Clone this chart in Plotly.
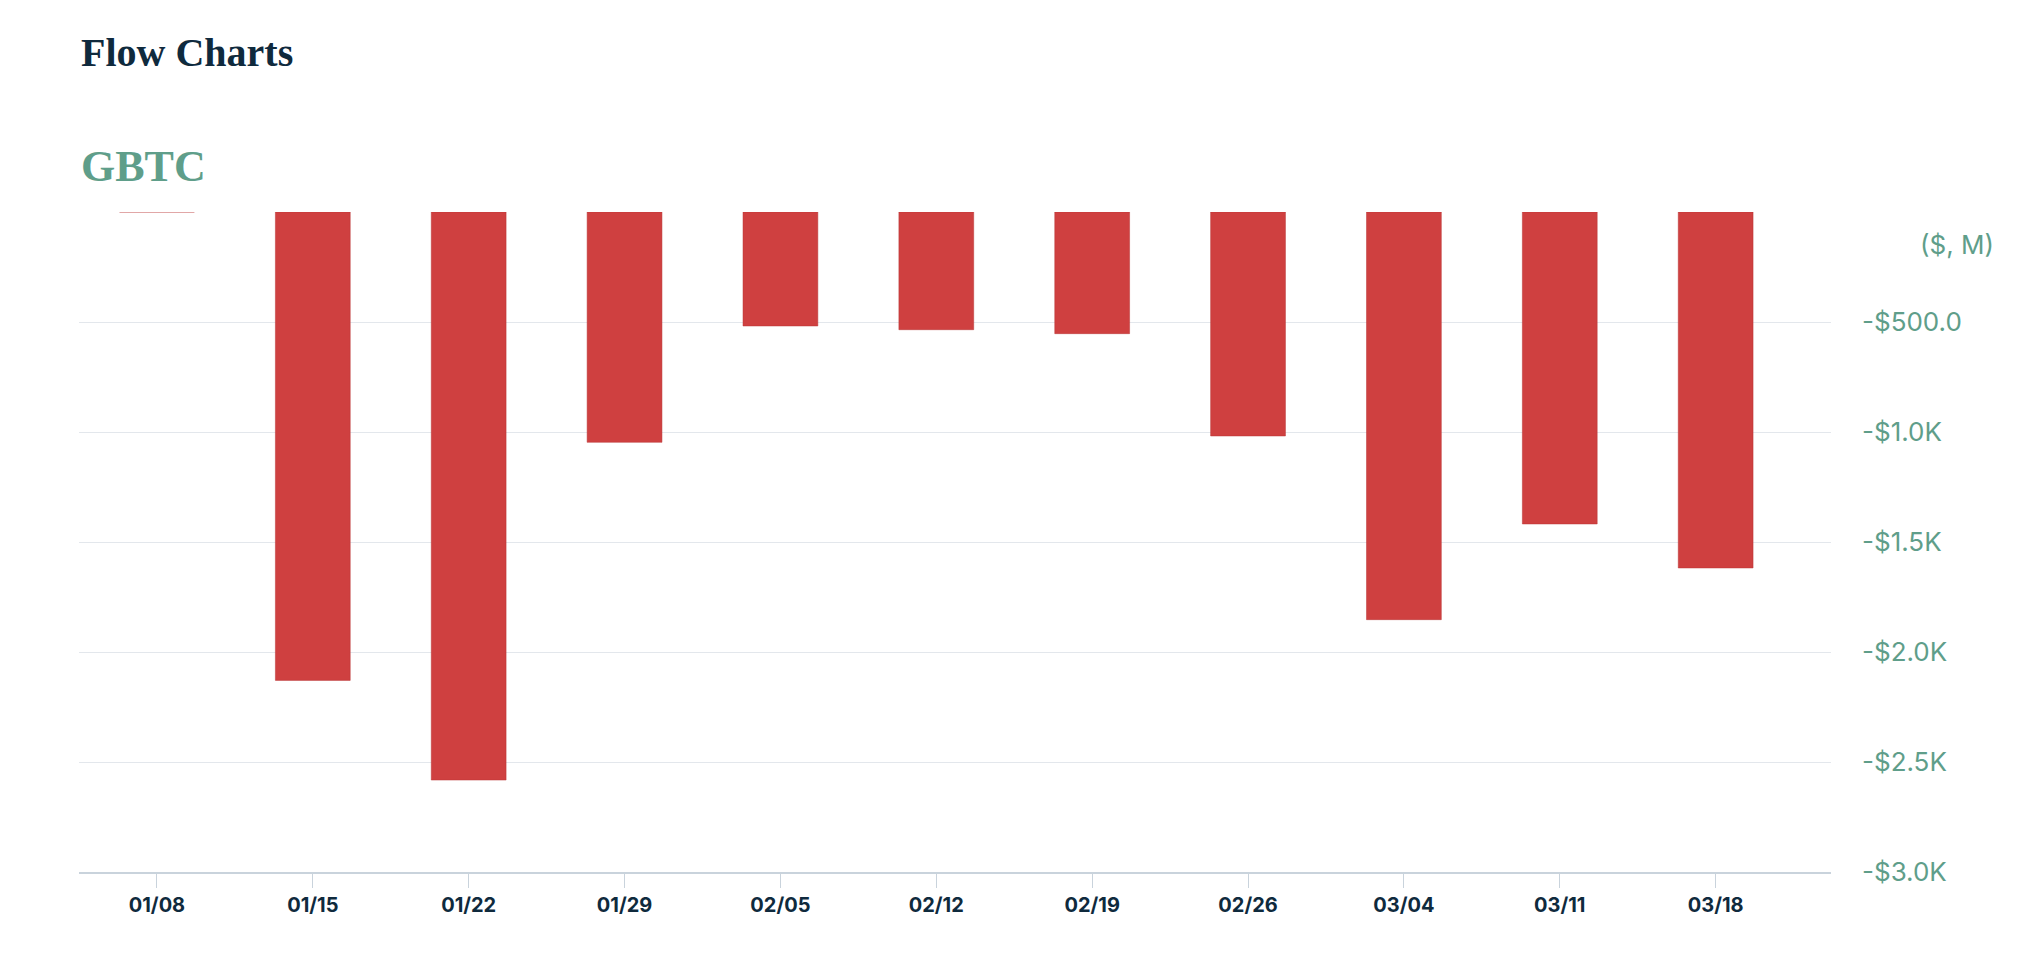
import plotly.graph_objects as go

dates = ["01/08","01/15","01/22","01/29","02/05","02/12","02/19","02/26","03/04","03/11","03/18"]
flows = [0, -2129, -2582, -1047, -518, -535, -553, -1018, -1853, -1418, -1618]
yticks = [-500, -1000, -1500, -2000, -2500, -3000]
ylabels = ["-$500.0", "-$1.0K", "-$1.5K", "-$2.0K", "-$2.5K", "-$3.0K"]

green = "#5f9e8a"
fig = go.Figure(go.Bar(x=list(range(len(dates))), y=flows, width=0.48,
                       marker=dict(color="#cf4040", line=dict(width=0.5, color="#b83434"))))
fig.update_layout(
    width=2028, height=965, plot_bgcolor="white", paper_bgcolor="white",
    margin=dict(l=71, r=205, t=204, b=101), showlegend=False,
    xaxis=dict(range=[-0.5, 10.74], tickvals=list(range(len(dates))), ticktext=dates,
               showgrid=False, showline=True, linecolor="#c9d3dc", linewidth=1.5,
               ticks="outside", ticklen=14, tickcolor="#c9d3dc",
               tickfont=dict(family="Inter", size=20, color="#0f2a3d", weight="bold")),
    yaxis=dict(range=[-3000, 0], side="right", tickvals=yticks, ticktext=ylabels,
               showgrid=True, gridcolor="#e3e7ec", zeroline=False, ticks="",
               ticklabelstandoff=30,
               tickfont=dict(family="Inter", size=26, color=green)),
    annotations=[
        dict(text="Flow Charts", x=71, y=45, xref="paper", yref="paper", showarrow=False),
    ],
)
fig.layout.annotations = [
    dict(text="<b>Flow Charts</b>", x=0, y=965-45, xref="paper", yref="paper", showarrow=False),
]
# use pixel-positioned annotations via paper coordinates
pw, ph = 2028-71-205, 965-204-101
def px(x): return (x-71)/pw
def py(y): return (965-101-y)/ph
fig.layout.annotations = [
    dict(text="<b>Flow Charts</b>", x=px(71), y=py(45), xref="paper", yref="paper",
         xanchor="left", yanchor="middle", showarrow=False,
         font=dict(family="Liberation Serif", size=40, color="#0f2a3d")),
    dict(text="<b>GBTC</b>", x=px(71), y=py(158), xref="paper", yref="paper",
         xanchor="left", yanchor="middle", showarrow=False,
         font=dict(family="Liberation Serif", size=44, color=green)),
    dict(text="($, M)", x=px(1988), y=py(236), xref="paper", yref="paper",
         xanchor="right", yanchor="middle", showarrow=False,
         font=dict(family="Inter", size=26, color=green)),
]
fig.write_html("out.html")
